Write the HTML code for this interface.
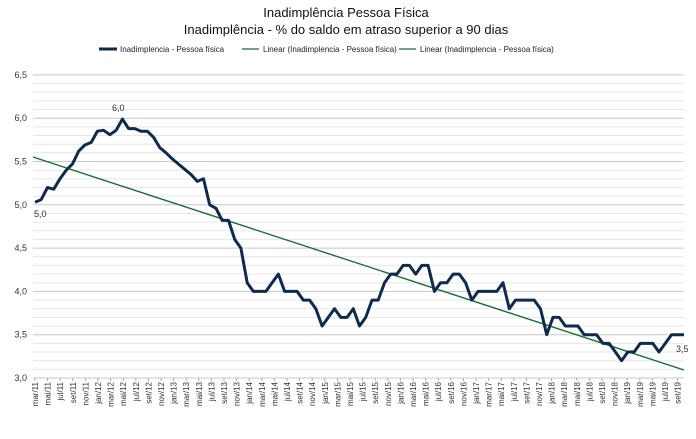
<!DOCTYPE html>
<html><head><meta charset="utf-8"><style>
body{margin:0;background:#fff;width:696px;height:434px;overflow:hidden;font-family:"Liberation Sans",sans-serif}
</style></head><body>
<svg id="s" width="696" height="434" xmlns="http://www.w3.org/2000/svg" font-family="Liberation Sans, sans-serif">
<text x="346" y="17" font-size="13" text-anchor="middle" fill="#111">Inadimplência  Pessoa Física</text>
<text x="346" y="34" font-size="13" text-anchor="middle" fill="#111">Inadimplência  - % do saldo em atraso superior  a 90 dias</text>
<line x1="99" y1="49" x2="117" y2="49" stroke="#0f2a4a" stroke-width="3"/>
<text x="120" y="52" font-size="8" fill="#222">Inadimplencia - Pessoa física</text>
<line x1="242" y1="49" x2="259" y2="49" stroke="#1a6e3a" stroke-width="1.3"/>
<text x="263" y="52" font-size="8" fill="#222">Linear (Inadimplencia - Pessoa física)</text>
<line x1="399" y1="49" x2="416" y2="49" stroke="#1a6e3a" stroke-width="1.3"/>
<text x="420" y="52" font-size="8" fill="#222">Linear (Inadimplencia - Pessoa física)</text>
<g id="g"></g>
</svg>
<script>
var g=document.getElementById('g'),h='';
function Y(v){return 378-(v-3)*86.6}
for(var i=0;i<=35;i++){var v=3+i*0.1,y=Y(v).toFixed(1),maj=i%5==0;
h+='<line x1="33" x2="684" y1="'+y+'" y2="'+y+'" stroke="'+(maj?'#c8c8c8':'#e6e6e6')+'" stroke-width="1"/>';
if(maj)h+='<text x="27" y="'+(+y+3)+'" font-size="9" text-anchor="end" fill="#333">'+v.toFixed(1).replace('.',',')+'</text>';}
var m=['jan','fev','mar','abr','mai','jun','jul','ago','set','out','nov','dez'];
for(var k=0;k<=51;k++){var mi=2+k*2,yr=11+Math.floor(mi/12),mo=m[mi%12],x=35+k*12.6;
h+='<line x1="'+x+'" x2="'+x+'" y1="378" y2="381" stroke="#aaa"/>';
h+='<text transform="translate('+(x+3)+',382) rotate(-90)" font-size="8" text-anchor="end" fill="#333">'+mo+'/'+yr+'</text>';}
var d=[5.03,5.06,5.2,5.18,5.3,5.4,5.47,5.62,5.69,5.72,5.85,5.86,5.81,5.86,5.99,5.88,5.88,5.85,5.85,5.78,5.66,5.6,5.53,5.47,5.41,5.35,5.27,5.3,5.0,4.96,4.82,4.82,4.6,4.5,4.1,4.0,4.0,4.0,4.1,4.2,4.0,4.0,4.0,3.9,3.9,3.8,3.6,3.7,3.8,3.7,3.7,3.8,3.6,3.7,3.9,3.9,4.1,4.2,4.2,4.3,4.3,4.2,4.3,4.3,4.0,4.1,4.1,4.2,4.2,4.1,3.9,4.0,4.0,4.0,4.0,4.1,3.8,3.9,3.9,3.9,3.9,3.8,3.5,3.7,3.7,3.6,3.6,3.6,3.5,3.5,3.5,3.4,3.4,3.3,3.2,3.3,3.3,3.4,3.4,3.4,3.3,3.4,3.5,3.5,3.5];
var dx=649/(d.length-1),p=[];
for(var i=0;i<d.length;i++)p.push((35+i*dx).toFixed(1)+','+Y(d[i]).toFixed(1));
h+='<line x1="33" y1="157" x2="684" y2="370" stroke="#1a6e3a" stroke-width="1.4"/>';
h+='<polyline points="'+p.join(' ')+'" fill="none" stroke="#0f2a4a" stroke-width="3" stroke-linejoin="round"/>';
h+='<text x="34" y="217" font-size="9" fill="#333">5,0</text>';
h+='<text x="112" y="111" font-size="9" fill="#333">6,0</text>';
h+='<text x="676" y="352" font-size="9" fill="#333">3,5</text>';
g.innerHTML=h;
</script>
</body></html>
